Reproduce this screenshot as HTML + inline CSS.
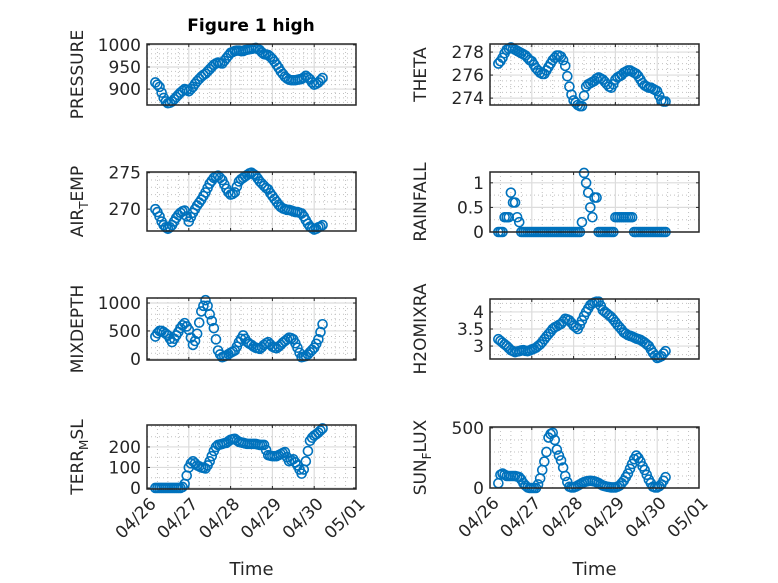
<!DOCTYPE html>
<html><head><meta charset="utf-8"><style>
html,body{margin:0;padding:0;background:#fff;}
svg{display:block;font-family:"DejaVu Sans","Liberation Sans",sans-serif;}
</style></head><body>
<svg id="fig" width="778" height="583" viewBox="0 0 778 583" xmlns="http://www.w3.org/2000/svg">
<rect width="778" height="583" fill="#fff"/>
<text x="251" y="31" text-anchor="middle" font-size="17" font-weight="bold" fill="#000">Figure 1 high</text>
</svg>
<script>
const dateLabels = ["04/26","04/27","04/28","04/29","04/30","05/01"];
const pressure = [915,910,905,892,880,872,868,869,872,877,882,887,892,896,900,898,895,900,905,912,918,923,928,932,935,940,945,950,955,958,960,959,958,964,970,976,982,984,986,987,987,986,986,988,989,990,991,992,993,991,988,983,979,978,977,973,968,962,955,948,940,934,928,924,921,920,920,920,921,922,923,926,930,926,922,915,910,912,915,920,925];
const airTemp = [270,269.6,269,268.3,267.8,267.5,267.3,267.5,267.8,268.3,268.8,269.2,269.5,269.7,269.8,269,268.3,268.9,269.5,270,270.5,270.9,271.3,271.8,272.3,272.9,273.5,273.9,274.3,274.5,274.6,274.3,274,273.4,272.8,272.3,272,272.1,272.3,273.1,273.8,274.1,274.3,274.5,274.7,274.9,275,274.8,274.6,274.2,273.8,273.5,273.2,272.9,272.7,272.2,271.8,271.4,271,270.6,270.3,270.1,270,269.9,269.9,269.8,269.7,269.6,269.6,269.5,269.4,269,268.5,268,267.6,267.4,267.2,267.3,267.5,267.6,267.8];
const mixDepth = [400,460,500,500,480,450,420,360,300,360,420,480,550,600,640,580,520,380,250,320,450,650,850,950,1050,950,800,680,550,350,150,80,30,45,60,85,110,130,150,220,300,360,420,360,300,270,250,220,200,190,180,210,250,280,300,260,220,200,190,220,250,290,320,350,380,370,350,280,200,110,30,40,50,80,120,160,200,270,350,480,620];
const terrMsl = [0,0,0,0,0,0,0,0,0,0,0,0,0,5,20,60,100,120,130,120,110,105,100,98,95,110,130,155,180,200,210,212,215,218,220,228,235,238,240,232,225,222,220,217,215,215,215,215,215,212,210,210,210,185,160,157,155,155,155,160,165,170,175,150,130,135,140,125,110,90,70,90,130,180,230,245,255,262,270,280,290];
const theta = [277,277.2,277.5,277.9,278.2,278.3,278.4,278.3,278.2,278.1,278,277.9,277.8,277.7,277.5,277.3,277.2,276.9,276.6,276.4,276.2,276.1,276.1,276.4,276.7,277,277.3,277.5,277.7,277.7,277.6,277.3,276.8,275.9,275,274.3,273.8,273.6,273.4,273.3,273.3,274.2,275,275.2,275.3,275.4,275.5,275.7,275.8,275.7,275.6,275.4,275.2,275,274.9,275.2,275.6,275.8,275.9,276,276.2,276.3,276.4,276.4,276.3,276.2,276.1,275.9,275.6,275.3,275.1,275,274.9,274.9,274.8,274.7,274.6,274.2,273.8,273.7,273.7];
const rainfall = [0,0,0,0.3,0.3,0.3,0.8,0.6,0.6,0.3,0.2,0,0,0,0,0,0,0,0,0,0,0,0,0,0,0,0,0,0,0,0,0,0,0,0,0,0,0,0,0,0.2,1.2,1.0,0.8,0.5,0.3,0.7,0.7,0,0,0,0,0,0,0,0,0.3,0.3,0.3,0.3,0.3,0.3,0.3,0.3,0.3,0,0,0,0,0,0,0,0,0,0,0,0,0,0,0,0];
const h2o = [3.2,3.15,3.1,3.05,3.0,2.94,2.88,2.85,2.82,2.84,2.85,2.87,2.88,2.86,2.85,2.87,2.9,2.92,2.95,3.0,3.05,3.12,3.2,3.28,3.35,3.42,3.5,3.55,3.58,3.62,3.65,3.72,3.8,3.78,3.75,3.68,3.6,3.55,3.5,3.62,3.75,3.88,4.0,4.1,4.2,4.25,4.28,4.3,4.3,4.18,4.05,4.0,3.95,3.9,3.85,3.78,3.7,3.62,3.55,3.48,3.4,3.36,3.32,3.3,3.28,3.25,3.22,3.2,3.18,3.14,3.1,3.05,3.0,2.9,2.8,2.72,2.65,2.67,2.7,2.78,2.85];
const sunFlux = [40,110,120,110,100,100,100,100,100,95,90,70,40,20,5,0,0,0,0,30,80,150,220,300,420,450,460,400,320,270,230,170,100,50,10,5,5,10,20,30,40,48,55,58,60,58,55,48,40,30,20,15,10,8,5,5,5,10,20,40,60,90,120,160,200,240,270,250,220,180,150,110,70,40,10,5,5,15,30,60,90];
const pressureTicks = [900,950,1000];
const airTicks = [270,275];
const mixTicks = [0,500,1000];
const terrTicks = [0,100,200];
const thetaTicks = [274,276,278];
const rainTicks = [0,0.5,1];
const h2oTicks = [3,3.5,4];
const sunTicks = [0,500];
const startDay = 0.2, stepDay = 0.05;

const NS = "http://www.w3.org/2000/svg";
const svg = document.getElementById('fig');
function mk(tag, attrs, parent){const e=document.createElementNS(NS,tag);for(const k in attrs)e.setAttribute(k,attrs[k]);(parent||svg).appendChild(e);return e;}

const panels = [
 {name:'pressure',x0:147,y0:44,y1:105,ymin:864,ymax:1002,ticks:pressureTicks,minor:10,vals:pressure,label:['PRESSURE'],bottom:false},
 {name:'air-temp',x0:147,y0:172,y1:231,ymin:267,ymax:275.1,ticks:airTicks,minor:1,vals:airTemp,label:['AIR','T','EMP'],bottom:false},
 {name:'mixdepth',x0:147,y0:298,y1:360,ymin:-20,ymax:1090,ticks:mixTicks,minor:100,vals:mixDepth,label:['MIXDEPTH'],bottom:false},
 {name:'terr-msl',x0:147,y0:425,y1:489,ymin:-5,ymax:307,ticks:terrTicks,minor:50,vals:terrMsl,label:['TERR','M','SL'],bottom:true},
 {name:'theta',x0:490,y0:44,y1:105,ymin:273.4,ymax:278.7,ticks:thetaTicks,minor:0.5,vals:theta,label:['THETA'],bottom:false},
 {name:'rainfall',x0:490,y0:172,y1:232,ymin:0,ymax:1.22,ticks:rainTicks,minor:0.25,vals:rainfall,label:['RAINFALL'],bottom:false},
 {name:'h2omixra',x0:490,y0:299,y1:359,ymin:2.62,ymax:4.38,ticks:h2oTicks,minor:0.25,vals:h2o,label:['H2OMIXRA'],bottom:false},
 {name:'sun-flux',x0:490,y0:427,y1:488,ymin:0,ymax:508,ticks:sunTicks,minor:100,vals:sunFlux,label:['SUN','F','LUX'],bottom:true}
];
const W = 209;

panels.forEach(p=>{
 const g = mk('g',{});
 
 
 const xs = t => p.x0 + t/5*W;
 const ys = v => p.y1 - (v-p.ymin)/(p.ymax-p.ymin)*(p.y1-p.y0);
 mk('rect',{x:p.x0,y:p.y0,width:W,height:p.y1-p.y0,fill:'#fff'},g);
 for(let t=0.25;t<5;t+=0.25){ if(Math.abs(t-Math.round(t))<1e-6) continue;
  mk('line',{x1:xs(t),x2:xs(t),y1:p.y0,y2:p.y1,stroke:'#c0c0c0','stroke-width':1,'stroke-dasharray':'1,3'},g);}
 const st = Math.ceil(p.ymin/p.minor)*p.minor;
 for(let v=st; v<=p.ymax+1e-9; v+=p.minor){
  if(p.ticks.some(tk=>Math.abs(tk-v)<1e-9)) continue;
  mk('line',{x1:p.x0,x2:p.x0+W,y1:ys(v),y2:ys(v),stroke:'#c0c0c0','stroke-width':1,'stroke-dasharray':'1,3'},g);}
 for(let d=1;d<5;d++) mk('line',{x1:xs(d),x2:xs(d),y1:p.y0,y2:p.y1,stroke:'#dcdcdc','stroke-width':1.2},g);
 p.ticks.forEach(v=>{
  mk('line',{x1:p.x0,x2:p.x0+W,y1:ys(v),y2:ys(v),stroke:'#dcdcdc','stroke-width':1.2},g);
  mk('line',{x1:p.x0,x2:p.x0+3,y1:ys(v),y2:ys(v),stroke:'#262626','stroke-width':1},g);
  mk('line',{x1:p.x0+W,x2:p.x0+W-3,y1:ys(v),y2:ys(v),stroke:'#262626','stroke-width':1},g);
  const t = mk('text',{x:p.x0-6,y:ys(v)+6,'text-anchor':'end','font-size':17,fill:'#262626'},g);
  
  
  t.textContent = String(v);
 });
 for(let d=0;d<=5;d++){
  mk('line',{x1:xs(d),x2:xs(d),y1:p.y1,y2:p.y1-3,stroke:'#262626','stroke-width':1},g);
  mk('line',{x1:xs(d),x2:xs(d),y1:p.y0,y2:p.y0+3,stroke:'#262626','stroke-width':1},g);
  if(p.bottom){
   const tx = xs(d)+10, ty = p.y1+16;
   const t = mk('text',{x:tx,y:ty,'text-anchor':'end','font-size':17,fill:'#262626',transform:`rotate(-45 ${tx} ${ty})`},g);
   
   
   t.textContent = dateLabels[d];
  }
 }
 p.vals.forEach((v,i)=>{
  const c = mk('circle',{cx:xs(startDay+i*stepDay),cy:ys(v),r:4.5,fill:'none',stroke:'#0072bd','stroke-width':1.6},g);
  
  
 });
 mk('rect',{x:p.x0,y:p.y0,width:W,height:p.y1-p.y0,fill:'none',stroke:'#262626','stroke-width':1.5},g);
 const lx = p.x0-64, ly = (p.y0+p.y1)/2;
 const yl = mk('text',{x:lx,y:ly,'text-anchor':'middle','font-size':17,fill:'#262626',transform:`rotate(-90 ${lx} ${ly})`},g);
 
 
 if(p.label.length===1){ yl.textContent=p.label[0]; }
 else{
  const a=mk('tspan',{},yl); a.textContent=p.label[0];
  const b=mk('tspan',{dy:5,'font-size':12},yl); b.textContent=p.label[1];
  const c=mk('tspan',{dy:-5},yl); c.textContent=p.label[2];
 }
 if(p.bottom){
  const xl = mk('text',{x:p.x0+W/2,y:575,'text-anchor':'middle','font-size':18,fill:'#262626'},g);
  
  
  xl.textContent='Time';
 }
});
</script>
</body></html>
